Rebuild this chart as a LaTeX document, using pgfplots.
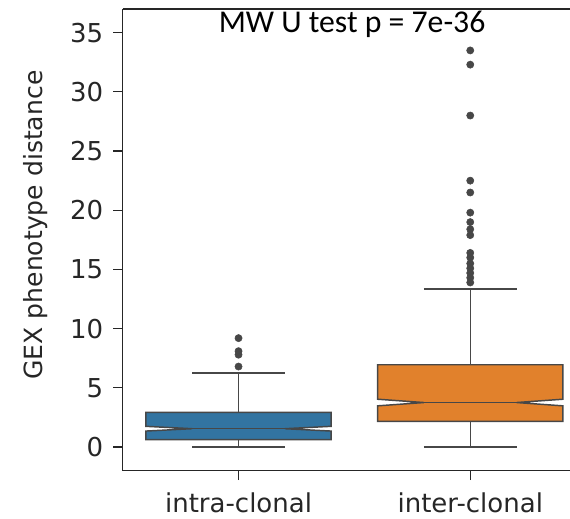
\documentclass[border=0pt]{standalone}
\usepackage{fontspec}
\setmainfont{DejaVu Sans}
\newfontfamily\calibri{Carlito}
\usepackage{pgfplots}
\pgfplotsset{compat=1.18}
\definecolor{cblue}{HTML}{3274A1}
\definecolor{corange}{HTML}{E1812C}
\definecolor{edge}{HTML}{474747}
\begin{document}
\begin{tikzpicture}
\begin{axis}[
  scale only axis, width=335.5pt, height=346.3pt,
  xmin=-0.5, xmax=1.4305, ymin=-2, ymax=37,
  axis x line=box, axis y line=left,
  axis line style={-, line width=1pt, black!85},
  xtick={0,1}, xticklabels={intra-clonal, inter-clonal},
  ytick={0,5,...,35},
  xtick pos=bottom, ytick pos=left,
  tick align=outside, major tick length=7pt,
  tick style={black!85, line width=0.9pt},
  ticklabel style={font=\fontsize{19.5}{20}\selectfont, text=black!85},
  yticklabel style={xshift=-4pt},
  xticklabel style={yshift=-6pt},
  /pgf/number format/assume math mode=true,
  ylabel={GEX phenotype distance},
  ylabel style={font=\fontsize{18.8}{20}\selectfont, text=black!85,
    at={(axis description cs:-0.158,0.532)}, anchor=south, rotate=0},
  clip=false,
]
% intra-clonal box (notched)
\addplot[fill=cblue, draw=edge, line width=1.1pt] coordinates {
  (-0.4,0.62) (0.4,0.62) (0.4,1.35) (0.2,1.55) (0.4,1.75) (0.4,2.92)
  (-0.4,2.92) (-0.4,1.75) (-0.2,1.55) (-0.4,1.35) (-0.4,0.62)} -- cycle;
\addplot[draw=edge, line width=1.1pt] coordinates {(-0.2,1.55) (0.2,1.55)};
\addplot[draw=edge, line width=1.1pt] coordinates {(0,2.92) (0,6.24)};
\addplot[draw=edge, line width=1.1pt] coordinates {(-0.2,6.24) (0.2,6.24)};
\addplot[draw=edge, line width=1.1pt] coordinates {(0,0.62) (0,0)};
\addplot[draw=edge, line width=1.1pt] coordinates {(-0.2,0) (0.2,0)};
% inter-clonal box (notched)
\addplot[fill=corange, draw=edge, line width=1.1pt] coordinates {
  (0.6,2.16) (1.4,2.16) (1.4,3.48) (1.2,3.76) (1.4,4.04) (1.4,6.95)
  (0.6,6.95) (0.6,4.04) (0.8,3.76) (0.6,3.48) (0.6,2.16)} -- cycle;
\addplot[draw=edge, line width=1.1pt] coordinates {(0.8,3.76) (1.2,3.76)};
\addplot[draw=edge, line width=1.1pt] coordinates {(1,6.95) (1,13.35)};
\addplot[draw=edge, line width=1.1pt] coordinates {(0.8,13.35) (1.2,13.35)};
\addplot[draw=edge, line width=1.1pt] coordinates {(1,2.16) (1,0)};
\addplot[draw=edge, line width=1.1pt] coordinates {(0.8,0) (1.2,0)};
% outliers
\addplot[only marks, mark=*, mark size=2.7pt, draw=edge, fill=edge] coordinates {
  (0,9.2) (0,8.1) (0,7.8) (0,6.8)};
\addplot[only marks, mark=*, mark size=2.7pt, draw=edge, fill=edge] coordinates {
  (1,33.5) (1,32.3) (1,28.0) (1,22.5) (1,21.5) (1,19.8) (1,19.0) (1,18.4)
  (1,17.9) (1,16.4) (1,16.0) (1,15.5) (1,15.1) (1,14.7) (1,14.3) (1,13.9)};
\node[anchor=base, font=\calibri\fontsize{23.8}{24}\selectfont] at (axis cs:0.49,35) {MW U test p = 7e-36};
\end{axis}
\pgfresetboundingbox
\path[use as bounding box] ([xshift=-92pt,yshift=-36.2pt]current axis.south west) rectangle ([yshift=6.75pt]current axis.north east);
\end{tikzpicture}
\end{document}
